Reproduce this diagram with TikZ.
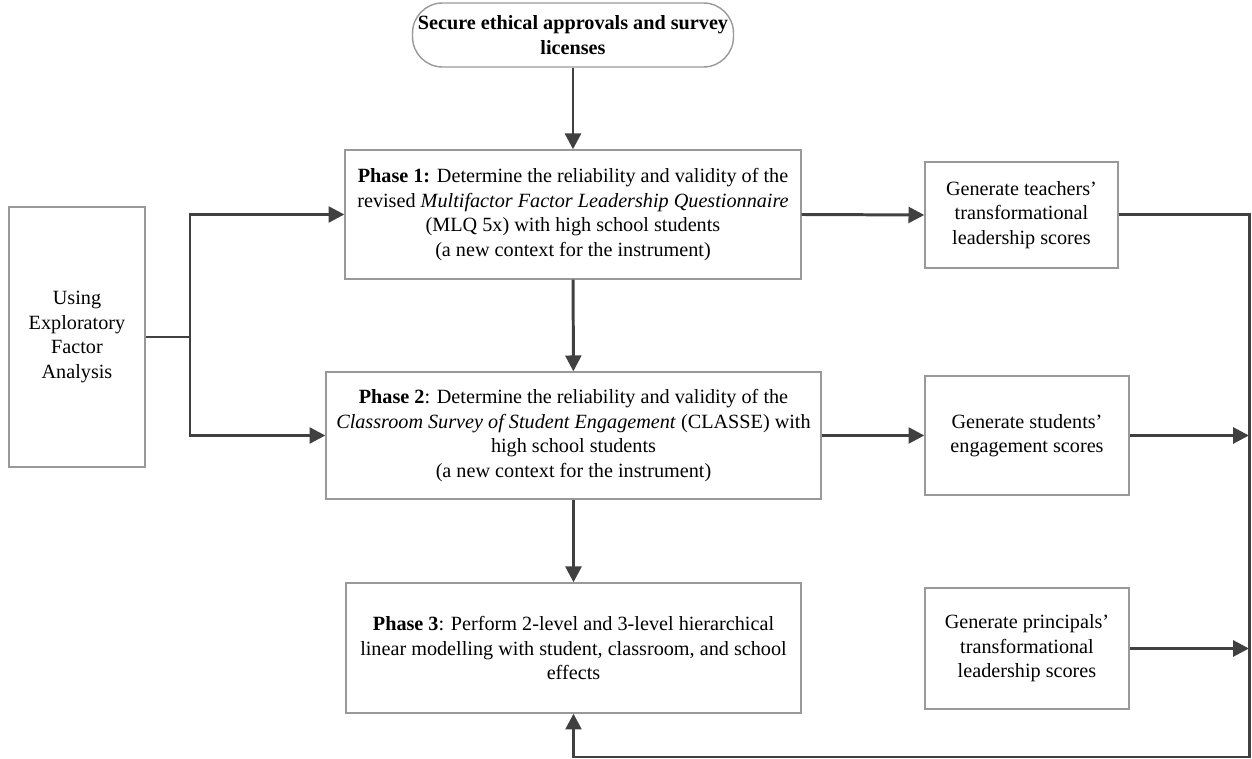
\documentclass[tikz,border=0pt]{standalone}
\usepackage{fontspec}
\setmainfont{Liberation Serif}
\usetikzlibrary{arrows.meta}

\begin{document}
\begin{tikzpicture}[x=0.02cm, y=-0.02cm,
    box/.style={draw=black!40, line width=0.8pt, align=center, inner sep=2pt,
        font=\fontsize{11.5}{13.9}\selectfont},
    flow/.style={draw=black!75, line width=1.7pt},
    arr/.style={flow, -{Triangle[length=9pt, width=9pt]}}]
    \useasboundingbox (0,0) rectangle (1252,759);
    % Start
    \node[box, rounded corners=0.6cm, minimum width=6.42cm, minimum height=1.28cm,
        font=\bfseries\fontsize{11.5}{13.9}\selectfont]
        (secure) at (573,35) {Secure ethical approvals and survey\\licenses};
    % Phases
    \node[box, minimum width=9.12cm, minimum height=2.58cm]
        (p1) at (573,214.5) {\textbf{Phase 1:} Determine the reliability and validity of the\\
        revised \textit{Multifactor Factor Leadership Questionnaire}\\
        (MLQ 5x) with high school students\\(a new context for the instrument)};
    \node[box, minimum width=9.9cm, minimum height=2.54cm]
        (p2) at (573.5,435.5) {\textbf{Phase 2}: Determine the reliability and validity of the\\
        \textit{Classroom Survey of Student Engagement} (CLASSE) with\\
        high school students\\(a new context for the instrument)};
    \node[box, minimum width=9.1cm, minimum height=2.6cm]
        (p3) at (573.5,648) {\textbf{Phase 3}: Perform 2-level and 3-level hierarchical\\
        linear modelling with student, classroom, and school\\effects};
    % Left box
    \node[box, minimum width=2.72cm, minimum height=5.2cm]
        (efa) at (77,337) {Using\\Exploratory\\Factor\\Analysis};
    % Scores
    \node[box, minimum width=3.86cm, minimum height=2.12cm]
        (teach) at (1021.5,215) {Generate teachers'\\transformational\\leadership scores};
    \node[box, minimum width=4.08cm, minimum height=2.38cm]
        (stud) at (1027,435.5) {Generate students'\\engagement scores};
    \node[box, minimum width=4.08cm, minimum height=2.42cm]
        (princ) at (1027,648.5) {Generate principals'\\transformational\\leadership scores};
    % Arrows
    \coordinate (split) at (190,337);
    \coordinate (rtop) at (1249,215);
    \coordinate (rbot) at (1249,757);
    \draw[arr] (secure) -- (p1);
    \draw[arr] (p1) -- (p2);
    \draw[arr] (p2) -- (p3);
    \draw[flow] (efa.east) -- (split);
    \draw[arr] (split) |- (p1.west);
    \draw[arr] (split) |- (p2.west);
    \draw[arr] (p1.east) -- (teach.west);
    \draw[arr] (p2.east) -- (stud.west);
    \draw[arr] (teach.east) -- (rtop) -- (rbot) -| (p3.south);
    \draw[arr] (stud.east) -- (stud.east -| rtop);
    \draw[arr] (princ.east) -- (princ.east -| rtop);
\end{tikzpicture}
\end{document}
